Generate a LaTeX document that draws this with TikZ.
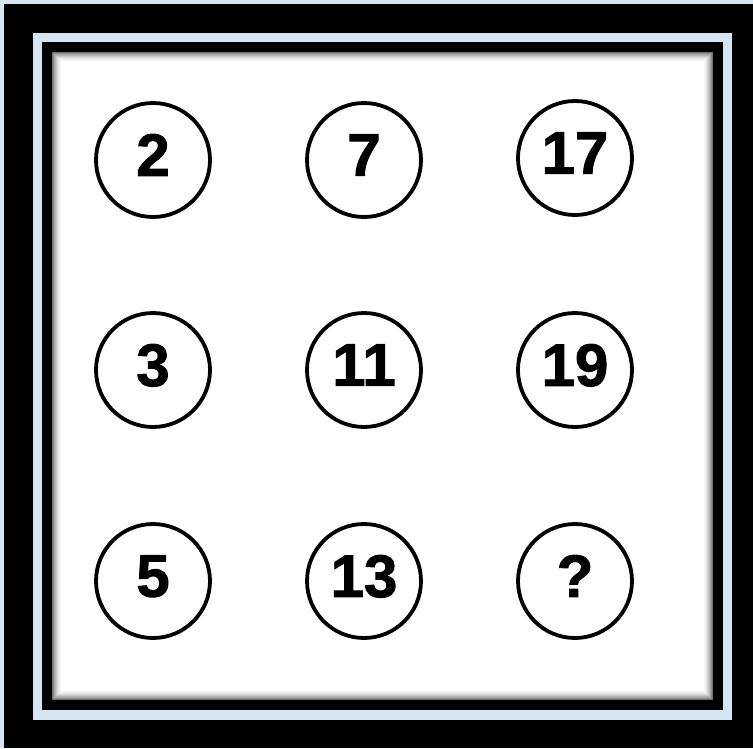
\documentclass[tikz,border=0pt]{standalone}
\usepackage{fontspec}
\setmainfont{Liberation Sans}[BoldFeatures={FakeBold=1.6}]
\definecolor{frameblue}{RGB}{214,229,244}
\tikzset{
  numcirc/.style={circle, draw=black, line width=3.8pt, minimum size=114pt, inner sep=0pt,
    text depth=10pt, font=\fontsize{60}{60}\selectfont\bfseries},
}
\begin{document}
\begin{tikzpicture}[x=1pt,y=-1pt]
\useasboundingbox (0,0) rectangle (753,748);
\fill[frameblue] (0,0) rectangle (753,748);
\fill[black] (4,4) rectangle (753,748);
\fill[frameblue] (33,33) rectangle (732,720);
\fill[black] (42,42) rectangle (723,710);
\fill[white] (52,52) rectangle (713,700);
% inner shadow
\foreach \i/\o in {0/0.55,1/0.45,2/0.36,3/0.28,4/0.21,5/0.15,6/0.10,7/0.06,8/0.03} {
  \draw[black, opacity=\o, line width=1pt] (52.5+\i,52.5+\i) rectangle (712.5-\i,699.5-\i);
}
\node[numcirc] (a) at (153,160) {2};
\node[numcirc] (b) at (364,160) {7};
\node[numcirc] (c) at (575,158) {17};
\node[numcirc] (d) at (153,370) {3};
\node[numcirc] (e) at (364,370) {11};
\node[numcirc] (f) at (575,370) {19};
\node[numcirc] (g) at (153,581) {5};
\node[numcirc] (h) at (364,581) {13};
\node[numcirc] (i) at (575,581) {?};
\end{tikzpicture}
\end{document}
